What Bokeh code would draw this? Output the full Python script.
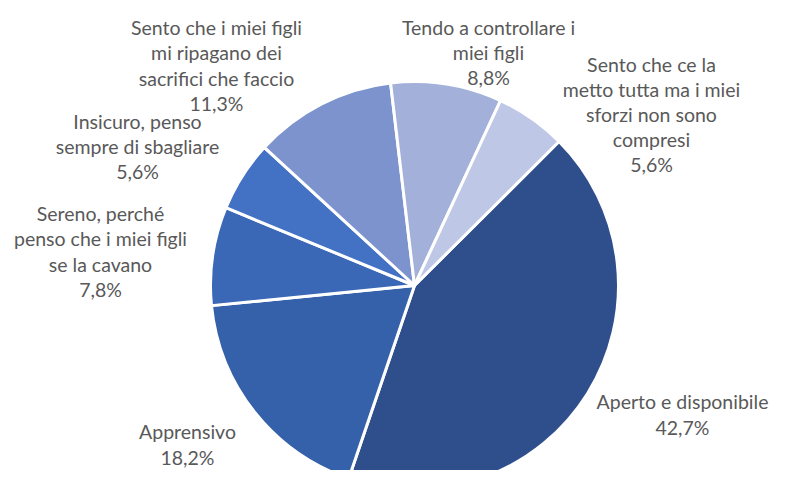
import numpy as np
from bokeh.plotting import figure
from bokeh.models import ColumnDataSource, Range1d
from bokeh.core.properties import value
from bokeh.embed import file_html
from bokeh.resources import INLINE

# ---- data ----
categories = [
    "Aperto e disponibile",
    "Apprensivo",
    "Sereno, perché\npenso che i miei figli\nse la cavano",
    "Insicuro, penso\nsempre di sbagliare",
    "Sento che i miei figli\nmi ripagano dei\nsacrifici che faccio",
    "Tendo a controllare i\nmiei figli",
    "Sento che ce la\nmetto tutta ma i miei\nsforzi non sono\ncompresi",
]
percent = [42.7, 18.2, 7.8, 5.6, 11.3, 8.8, 5.6]
colors = ["#2F4E8C", "#3461A9", "#3A68B7", "#4371C4", "#7C93CE", "#A2B0DA", "#BEC8E6"]

# ---- layout (screen-pixel positions of label block centres) ----
W, H = 774, 470
label_pos = [(682, 414), (187, 444), (100, 251), (137, 146), (216, 65), (488, 52), (651, 114)]
first_slice_deg = 45.1  # clockwise from 12 o'clock
cx_page, cy_page, radius = 414, 285, 204

def px(xp):
    return xp

def py(yp):
    return H - yp

vals = np.array(percent, dtype=float)
frac = vals / vals.sum()
cum = np.concatenate([[0.0], np.cumsum(frac)])
theta_start = np.deg2rad(first_slice_deg) + 2 * np.pi * cum[:-1]
theta_end = np.deg2rad(first_slice_deg) + 2 * np.pi * cum[1:]
start_angle = np.pi / 2 - theta_start
end_angle = np.pi / 2 - theta_end

labels = [f"{c}\n{v:.1f}".replace(".", ",") + "%" for c, v in zip(categories, percent)]

src = ColumnDataSource(dict(
    start=start_angle, end=end_angle, color=colors,
))
lsrc = ColumnDataSource(dict(
    x=[px(a) for a, b in label_pos],
    y=[py(b) for a, b in label_pos],
    text=labels,
))

p = figure(width=W, height=H, x_range=Range1d(0, W), y_range=Range1d(0, H),
           toolbar_location=None, output_backend="svg", min_border=0,
           x_axis_location=None, y_axis_location=None)
p.grid.visible = False
p.outline_line_color = None
p.background_fill_color = "white"
p.border_fill_color = "white"

p.wedge(x=px(cx_page), y=py(cy_page), radius=radius, start_angle="start", end_angle="end",
        direction="clock", fill_color="color", line_color="white", line_width=3, source=src)

p.text(x="x", y="y", text="text", source=lsrc, text_align="center", text_baseline="middle",
       text_font=value("Lato"), text_font_size="19.5px", text_color="#595959",
       text_line_height=1.09)

open("out.html", "w").write(file_html(p, INLINE))
